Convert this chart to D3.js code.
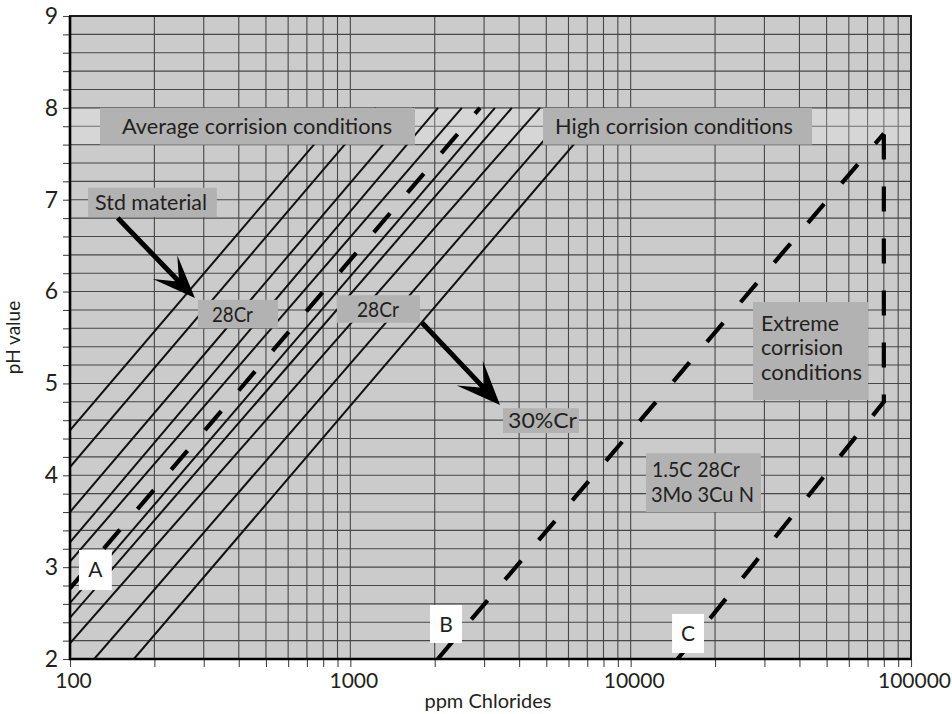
<!DOCTYPE html>
<html>
<head>
<meta charset="utf-8">
<script src="https://cdn.jsdelivr.net/npm/d3@7"></script>
<style>
    body { margin: 0; background: #fff; }
    text { font-family: Lato, "Open Sans", sans-serif; fill: #231f20; }
</style>
</head>
<body>
<div id="chart"></div>
<script>
    // axis labels
    const yTicks = [2, 3, 4, 5, 6, 7, 8, 9];
    const xTicks = [100, 1000, 10000, 100000];

    // solid lines, start and end as [ppm, pH]
    const solidFrom = [[100, 4.49], [100, 4.09], [100, 3.60], [100, 3.27], [100, 3.06],
                       [100, 2.61], [100, 2.45], [100, 2.17], [122, 2], [169, 2]];
    const solidTo = [[960, 8], [1235, 8], [1690, 8], [2055, 8], [2500, 8],
                     [3280, 8], [3770, 8], [4750, 8], [6180, 8], [8100, 8]];

    // dashed lines A, B, C
    const lineA = [[100, 2.77], [2900, 8]];
    const lineB = [[2050, 2], [80000, 7.72]];
    const lineC = [[14700, 2], [80000, 4.8], [80000, 8]];

    const W = 952, H = 714;
    const margin = { top: 16, right: 41, bottom: 55, left: 70 };

    const x = d3.scaleLog().domain([100, 100000]).range([margin.left, W - margin.right]);
    const y = d3.scaleLinear().domain([2, 9]).range([H - margin.bottom, margin.top]);

    const svg = d3.select("#chart").append("svg")
        .attr("width", W)
        .attr("height", H);

    const x0 = margin.left, x1 = W - margin.right, y0 = H - margin.bottom, y1 = margin.top;

    svg.append("defs").append("clipPath").attr("id", "plot")
        .append("rect").attr("x", x0).attr("y", y1).attr("width", x1 - x0).attr("height", y0 - y1);

    // background
    svg.append("rect")
        .attr("x", x0).attr("y", y1).attr("width", x1 - x0).attr("height", y0 - y1)
        .attr("fill", "#cbcbcb");

    // grid
    const hGrid = d3.range(0, 36).map(i => Math.round((2 + i * 0.2) * 10) / 10);
    const grid = svg.append("g").attr("stroke", "#474747").attr("stroke-width", 1.1);
    grid.selectAll("line.v").data(x.ticks()).join("line")
        .attr("class", "v")
        .attr("x1", d => x(d)).attr("x2", d => x(d))
        .attr("y1", y1).attr("y2", y0);
    grid.selectAll("line.h").data(hGrid).join("line")
        .attr("class", "h")
        .attr("x1", x0).attr("x2", x1)
        .attr("y1", d => y(d)).attr("y2", d => y(d));

    // light band behind the top labels
    svg.append("rect")
        .attr("x", x0).attr("y", y(8) + 1).attr("width", x1 - x0).attr("height", y(7.6) - y(8) - 1)
        .attr("fill", "#fff").attr("opacity", 0.22);

    const line = d3.line().x(d => x(d[0])).y(d => y(d[1]));
    const lines = svg.append("g").attr("clip-path", "url(#plot)").attr("fill", "none");

    lines.selectAll("path.solid").data(solidFrom.map((d, i) => [d, solidTo[i]])).join("path")
        .attr("class", "solid")
        .attr("d", line)
        .attr("stroke", "#111")
        .attr("stroke-width", 2);

    lines.selectAll("path.dash").data([lineA, lineB, lineC]).join("path")
        .attr("class", "dash")
        .attr("d", line)
        .attr("stroke", "#000")
        .attr("stroke-width", 4.2)
        .attr("stroke-dasharray", "25 27");

    // label boxes, in data units
    function box(p0, p1, top, bottom, fill) {
        return svg.append("rect")
            .attr("x", x(p0)).attr("y", y(top))
            .attr("width", x(p1) - x(p0)).attr("height", y(bottom) - y(top))
            .attr("fill", fill);
    }
    function label(px, py, str, size, len, anchor) {
        const t = svg.append("text")
            .attr("x", px).attr("y", py)
            .attr("font-size", size)
            .attr("text-anchor", anchor || "start")
            .text(str);
        if (len) t.attr("textLength", len).attr("lengthAdjust", "spacingAndGlyphs");
        return t;
    }

    const boxGray = "#b2b2b2";
    box(128, 1701, 8, 7.6, boxGray);
    label(x(128) + 22, y(7.8) + 7.5, "Average corrision conditions", 21, 270);

    box(4868, 44360, 8, 7.6, boxGray);
    label(x(4868) + 12, y(7.8) + 7.5, "High corrision conditions", 21, 238);

    box(116, 334, 7.13, 6.81, boxGray);
    label(x(116) + 7, y(6.97) + 7.5, "Std material", 21, 112);

    box(286, 552, 5.91, 5.60, boxGray);
    label(x(286) + 14, y(5.755) + 7.5, "28Cr", 21, 41);

    box(896, 1772, 5.96, 5.66, boxGray);
    label(x(896) + 20, y(5.81) + 7.5, "28Cr", 21, 42);

    box(3505, 6542, 4.73, 4.46, boxGray);
    label(x(3505) + 5, y(4.595) + 7.5, "30%Cr", 21, 69);

    box(27320, 70240, 5.886, 4.82, boxGray);
    label(x(27320) + 8, y(5.886) + 29, "Extreme", 21, 78);
    label(x(27320) + 8, y(5.886) + 53, "corrision", 21, 82);
    label(x(27320) + 8, y(5.886) + 78, "conditions", 21, 101);

    box(11340, 29170, 4.24, 3.60, boxGray);
    label(x(11340) + 6, y(4.24) + 24, "1.5C 28Cr", 21, 88);
    label(x(11340) + 5, y(4.24) + 49, "3Mo 3Cu N", 21, 103);

    // arrows
    function arrowPath(a, b, L, Wd, sw) {
        const ax = x(a[0]), ay = y(a[1]), bx = x(b[0]), by = y(b[1]);
        const len = Math.hypot(bx - ax, by - ay);
        const ux = (bx - ax) / len, uy = (by - ay) / len, nx = -uy, ny = ux;
        const base = [bx - L * ux, by - L * uy];
        const notch = [bx - 0.6 * L * ux, by - 0.6 * L * uy];
        const pts = [
            [ax + nx * sw / 2, ay + ny * sw / 2],
            [notch[0] + nx * sw / 2, notch[1] + ny * sw / 2],
            [base[0] + nx * Wd, base[1] + ny * Wd],
            [bx, by],
            [base[0] - nx * Wd, base[1] - ny * Wd],
            [notch[0] - nx * sw / 2, notch[1] - ny * sw / 2],
            [ax - nx * sw / 2, ay - ny * sw / 2]
        ];
        return "M" + pts.map(p => p.join(",")).join("L") + "Z";
    }
    svg.append("path").attr("d", arrowPath([148, 6.80], [279, 5.93], 43, 17, 5)).attr("fill", "#000");
    svg.append("path").attr("d", arrowPath([1802, 5.66], [3420, 4.765], 44, 18, 5)).attr("fill", "#000");

    // white letter boxes
    box(107.7, 141, 3.187, 2.751, "#fff");
    label((x(107.7) + x(141)) / 2, y(2.97) + 7.5, "A", 21, null, "middle");
    box(1924, 2502, 2.588, 2.174, "#fff");
    label((x(1924) + x(2502)) / 2, y(2.38) + 7.5, "B", 21, null, "middle");
    box(14050, 18260, 2.49, 2.065, "#fff");
    label((x(14050) + x(18260)) / 2, y(2.28) + 7.5, "C", 21, null, "middle");

    // axes
    const yAxis = svg.append("g")
        .attr("transform", `translate(${x0},0)`)
        .call(d3.axisLeft(y).tickValues(hGrid).tickSize(7).tickPadding(5)
            .tickFormat(d => yTicks.includes(d) ? d : ""));
    const xAxis = svg.append("g")
        .attr("transform", `translate(0,${y0})`)
        .call(d3.axisBottom(x).tickValues(x.ticks()).tickSize(8).tickPadding(6)
            .tickFormat(d => xTicks.some(t => Math.abs(t - d) / t < 1e-9) ? d3.format("d")(d) : ""));
    [yAxis, xAxis].forEach(g => {
        g.select(".domain").remove();
        g.selectAll(".tick line").attr("stroke", "#474747").attr("stroke-width", 1.1);
        g.selectAll(".tick text").attr("font-family", "Lato, sans-serif").attr("fill", "#231f20");
    });
    yAxis.selectAll(".tick text").attr("font-size", 23);
    xAxis.selectAll(".tick text").attr("font-size", 21).attr("dx", 3);

    // frame
    svg.append("rect")
        .attr("x", x0).attr("y", y1).attr("width", x1 - x0).attr("height", y0 - y1)
        .attr("fill", "none").attr("stroke", "#1a1a1a").attr("stroke-width", 2);
    svg.append("path")
        .attr("d", `M${x0},${y1}V${y0}H${x1}`)
        .attr("fill", "none").attr("stroke", "#000").attr("stroke-width", 2.6);

    // axis titles
    svg.append("text")
        .attr("transform", `translate(20,${(y1 + y0) / 2}) rotate(-90)`)
        .attr("text-anchor", "middle")
        .attr("font-size", 19)
        .text("pH value");
    svg.append("text")
        .attr("x", 488).attr("y", 708)
        .attr("text-anchor", "middle")
        .attr("font-size", 20)
        .text("ppm Chlorides");
</script>
</body>
</html>
